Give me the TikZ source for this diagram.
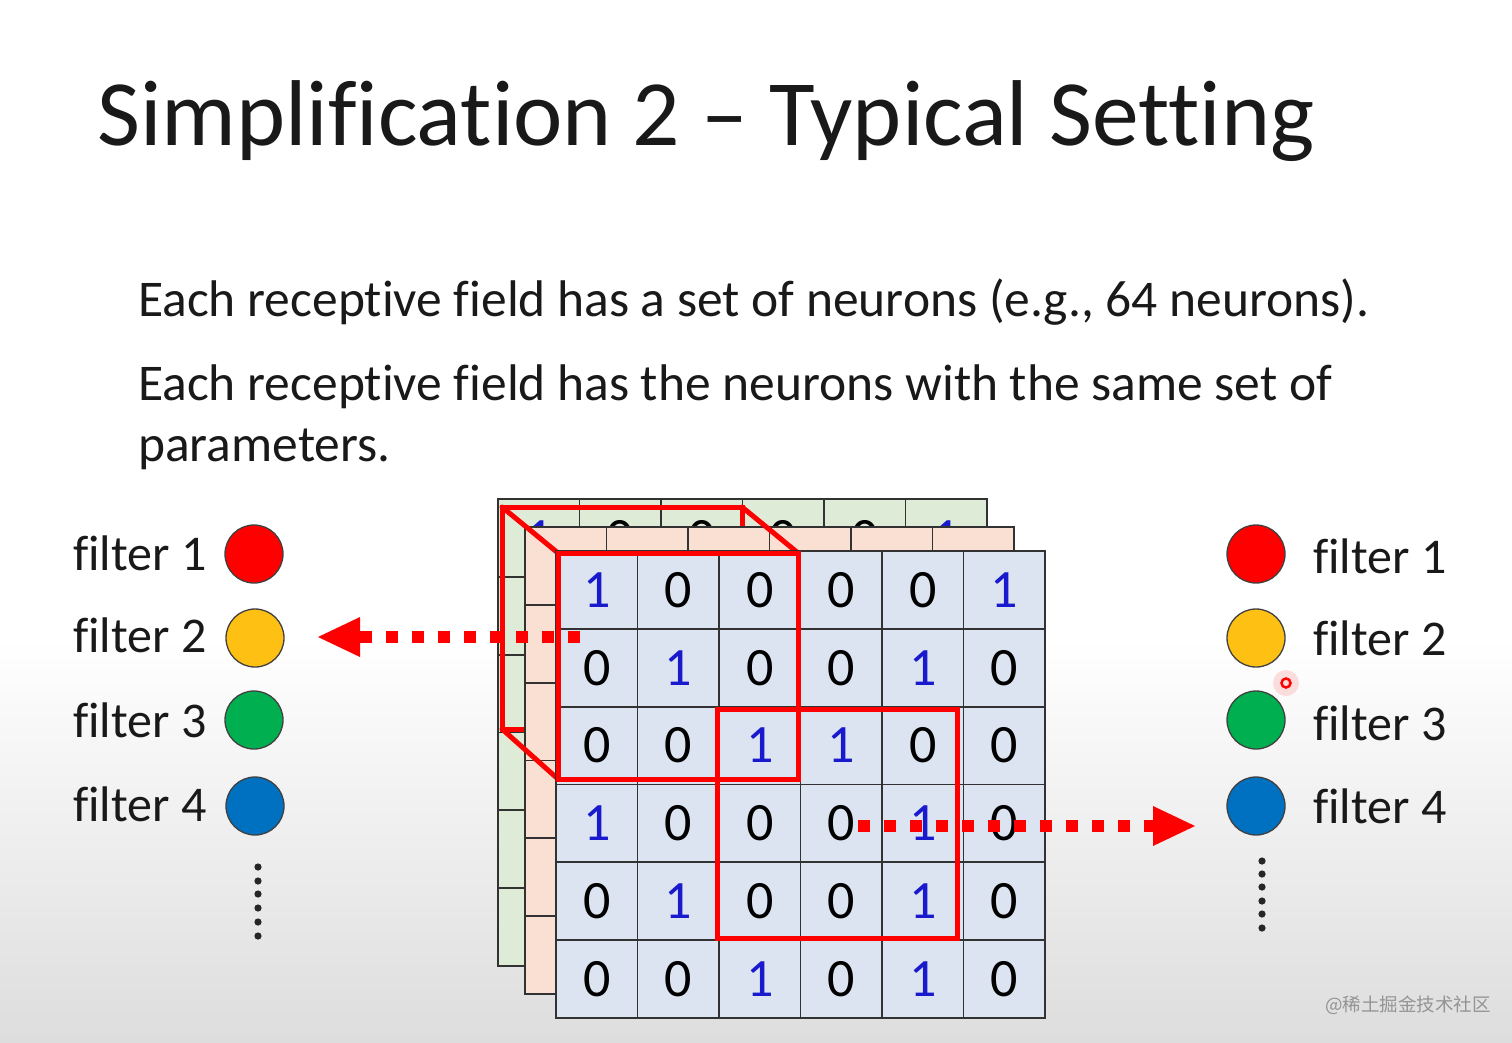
\documentclass[tikz,border=0pt]{standalone}
\usepackage{fontspec}
\setmainfont{Carlito}[RawFeature={-liga,-clig,-dlig}]
\newfontfamily\cjk{Noto Sans CJK SC}
\usetikzlibrary{arrows.meta}
\definecolor{digblue}{RGB}{25,25,205}
\definecolor{cellblue}{RGB}{219,228,240}
\definecolor{cellpeach}{RGB}{249,224,211}
\definecolor{cellgreen}{RGB}{222,235,215}
\definecolor{gridc}{RGB}{50,50,50}
\definecolor{fyellow}{RGB}{255,192,20}
\definecolor{fgreen}{RGB}{0,176,80}
\definecolor{fblue}{RGB}{0,112,192}
\definecolor{bggray}{RGB}{221,221,221}
\definecolor{txt}{RGB}{25,25,25}
\tikzset{
  gridline/.style={draw=gridc, line width=1.8pt},
  digit/.style={inner sep=0pt, font=\fontsize{54}{60}\selectfont},
  redbox/.style={draw=red, line width=5pt, line join=miter},
  redarrow/.style={draw=red, line width=12pt, dash pattern=on 12pt off 14pt,
     -{Triangle[length=42pt,width=40pt,line width=0pt]}},
  legcircle/.style={circle, minimum size=58pt, inner sep=0pt, draw=black!75, line width=1.3pt},
  legtext/.style={anchor=base west, inner sep=0pt, font=\fontsize{50}{56}\selectfont, text=txt},
  bodytext/.style={anchor=base west, inner sep=0pt, font=\fontsize{51.5}{58}\selectfont, text=txt},
}
\newcommand{\drawlayer}[3]{%
 \begin{scope}[shift={(#1,#2)}]
  \fill[#3] (0,0) rectangle (489,467);
  \foreach \k in {1,...,5} {
    \draw[gridline] (\k*81.5,0) -- (\k*81.5,467);
    \draw[gridline] (0,\k*77.83) -- (489,\k*77.83);
  }
  \draw[gridline] (0,0) rectangle (489,467);
 \end{scope}}
\newcommand{\layerdigits}[3]{%
 \begin{scope}[shift={(#1,#2)}]
  \foreach \row [count=\r] in {{1,0,0,0,0,1},{0,1,0,0,1,0},{0,0,1,1,0,0},{1,0,0,0,1,0},{0,1,0,0,1,0},{0,0,1,0,1,0}} {
    \foreach \v [count=\c] in \row {
      \ifnum\v=1 \def\dcol{digblue}\else\def\dcol{black}\fi
      \node[digit,text=\dcol] (#3-\r-\c) at ({(\c-0.5)*81.5},{(\r-0.5)*77.83}) {\v};
    }
  }
 \end{scope}}
\begin{document}
\begin{tikzpicture}[x=1pt,y=-1pt]
\useasboundingbox (0,0) rectangle (1512,1042);
\fill[white] (0,0) rectangle (1512,1042);
\shade[top color=white, bottom color=bggray] (0,640) rectangle (1512,1042);

% title and text
\node[anchor=base west, inner sep=0pt, font=\fontsize{93.5}{100}\selectfont, text=txt] (title) at (97,145) {Simplification 2 – Typical Setting};
\node[bodytext] (l1) at (138,316) {Each receptive field has a set of neurons (e.g., 64 neurons).};
\node[bodytext] (l2) at (138,400) {Each receptive field has the neurons with the same set of};
\node[bodytext] (l3) at (138,461) {parameters.};

% left legend
\node[legtext] (lt1) at (73,570) {filter 1};
\node[legtext] (lt2) at (73,652) {filter 2};
\node[legtext] (lt3) at (73,737) {filter 3};
\node[legtext] (lt4) at (73,821) {filter 4};
\node[legcircle, fill=red] (lc1) at (254,554) {};
\node[legcircle, fill=fyellow] (lc2) at (255,638) {};
\node[legcircle, fill=fgreen] (lc3) at (254,720) {};
\node[legcircle, fill=fblue] (lc4) at (255,806) {};
\foreach \yy in {867,881,894,908,922,936} \fill[black!85] (258,\yy) circle (3.6);

% right legend
\node[legtext] (rt1) at (1313,573) {filter 1};
\node[legtext] (rt2) at (1313,655) {filter 2};
\node[legtext] (rt3) at (1313,740) {filter 3};
\node[legtext] (rt4) at (1313,823) {filter 4};
\node[legcircle, fill=red] (rc1) at (1256,554) {};
\node[legcircle, fill=fyellow] (rc2) at (1256,638) {};
\node[legcircle, fill=fgreen] (rc3) at (1256,720) {};
\node[legcircle, fill=fblue] (rc4) at (1256,806) {};
\foreach \yy in {861,874,887,901,914,928} \fill[black!85] (1262,\yy) circle (3.6);

% layers
\drawlayer{498}{499}{cellgreen}
\layerdigits{498}{499}{G}
\coordinate (bk-tl) at (502,507);
\coordinate (bk-tr) at (742,507);
\coordinate (bk-bl) at (502,729);
\coordinate (bk-br) at (742,729);
\draw[redbox] (bk-tl) rectangle (bk-br);
\drawlayer{525}{527}{cellpeach}
\coordinate (fr-tl) at (558,553);
\coordinate (fr-tr) at (798,553);
\coordinate (fr-bl) at (558,779);
\coordinate (fr-br) at (798,779);
\draw[redbox, line cap=round] (bk-tl) -- (fr-tl) (bk-tr) -- (fr-tr) (bk-bl) -- (fr-bl) (bk-br) -- (fr-br);
\drawlayer{556}{551}{cellblue}
\layerdigits{556}{551}{F}
\draw[redbox] (fr-tl) rectangle (fr-br);
\coordinate (r2-tl) at (717,709);
\coordinate (r2-br) at (957,938);
\draw[redbox] (r2-tl) rectangle (r2-br);

% arrows
\coordinate (la-s) at (580,637);
\coordinate (la-e) at (318,637);
\draw[redarrow] (la-s) -- (la-e);
\coordinate (ra-s) at (858,826);
\coordinate (ra-e) at (1195,826);
\draw[redarrow] (ra-s) -- (ra-e);

% cursor mark
\fill[red, opacity=0.12] (1286,683) circle (13);
\draw[red, line width=2.5pt] (1286,683) circle (4.5);

% watermark
\node[anchor=base west, inner sep=0pt, font=\cjk\fontsize{18.5}{20}\selectfont, text=black!42] (wm) at (1325,1011) {@稀土掘金技术社区};
\end{tikzpicture}
\end{document}
